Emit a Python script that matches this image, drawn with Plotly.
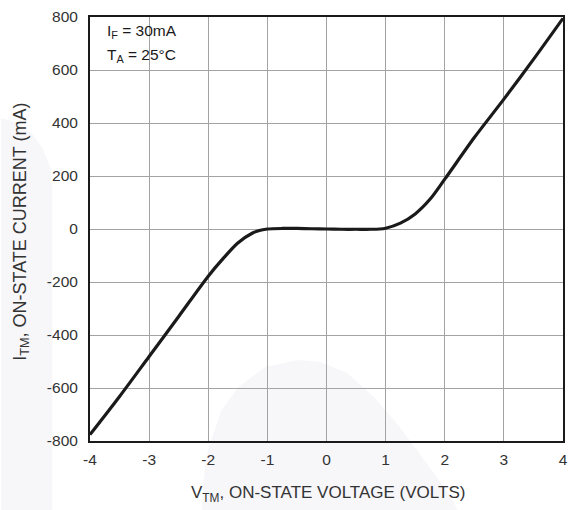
import plotly.graph_objects as go

# On-state characteristic
voltage = [-4, -3.5, -3, -2.5, -2, -1.75, -1.5, -1.25, -1.1, -1, -0.75, -0.5, -0.25,
           0, 0.25, 0.5, 0.75, 0.9, 1, 1.25, 1.5, 1.75, 2, 2.5, 3, 3.5, 4]
current = [-776, -632, -481, -330, -178, -112, -53, -15, -4, 0, 2, 2, 1,
           0, -1, -1, -1, 0, 3, 22, 57, 112, 188, 345, 490, 640, 795]

x_ticks = [-4, -3, -2, -1, 0, 1, 2, 3, 4]
y_ticks = [-800, -600, -400, -200, 0, 200, 400, 600, 800]

FONT = "Liberation Sans, Arial, sans-serif"
W, H = 571, 510
L, R, T, B = 90, 3, 17, 69
PW, PH = W - L - R, H - T - B


def px(x):
    return (x - L) / PW


def py(y):
    return (H - B - y) / PH


def path(points):
    return "M " + " L ".join(f"{px(a):.4f},{py(b):.4f}" for a, b in points) + " Z"


left_mark = [(0, 118), (15, 122), (30, 132), (42, 148), (50, 168), (52, 190),
             (52, 510), (0, 510)]
bottom_mark = [(203, 510), (206, 470), (210, 447), (223, 410), (240, 387), (267, 367),
               (300, 360), (323, 362), (350, 373), (377, 397), (403, 427), (430, 463),
               (457, 500), (461, 510)]

fig = go.Figure()
fig.add_trace(go.Scatter(x=voltage, y=current, mode="lines",
                         line=dict(color="#1a1a1a", width=3.2, shape="spline", smoothing=0.8),
                         hoverinfo="skip", showlegend=False))

shapes = [dict(type="path", xref="paper", yref="paper", path=path(pts),
               fillcolor="#f7f6f9", line=dict(width=0), layer="below")
          for pts in (left_mark, bottom_mark)]

axis_common = dict(showgrid=True, gridcolor="#a3a3a3", gridwidth=1, zeroline=False,
                   showline=True, linecolor="#1a1a1a", linewidth=2, mirror=True,
                   ticks="", tickfont=dict(family=FONT, size=15.5, color="#333333"))

fig.update_layout(
    width=W, height=H,
    margin=dict(l=L, r=R, t=T, b=B),
    paper_bgcolor="white", plot_bgcolor="rgba(0,0,0,0)",
    shapes=shapes,
    xaxis=dict(range=[-4, 4], tickvals=x_ticks, ticktext=[str(v) for v in x_ticks],
               ticklabelstandoff=3, **axis_common),
    yaxis=dict(range=[-800, 800], tickvals=y_ticks, ticktext=[str(v) for v in y_ticks],
               ticklabelstandoff=7, **axis_common),
    annotations=[
        dict(text="I<sub>F</sub> = 30mA", xref="paper", yref="paper",
             x=px(105), y=py(31), xanchor="left", yanchor="middle", showarrow=False,
             font=dict(family=FONT, size=15.5, color="#1a1a1a")),
        dict(text="T<sub>A</sub> = 25°C", xref="paper", yref="paper",
             x=px(105), y=py(56), xanchor="left", yanchor="middle", showarrow=False,
             font=dict(family=FONT, size=15.5, color="#1a1a1a")),
        dict(text="V<sub>TM</sub>, ON-STATE VOLTAGE (VOLTS)", xref="paper", yref="paper",
             x=px(331), y=py(494), xanchor="center", yanchor="middle", showarrow=False,
             font=dict(family=FONT, size=17, color="#333333")),
        dict(text="I<sub>TM</sub>, ON-STATE CURRENT (mA)", xref="paper", yref="paper",
             x=px(20), y=py(232), xanchor="center", yanchor="middle", showarrow=False,
             textangle=-90, font=dict(family=FONT, size=18, color="#333333")),
    ],
)

fig.write_html("out.html", config={"displayModeBar": False},
               post_script="document.body.style.margin='0px';")
